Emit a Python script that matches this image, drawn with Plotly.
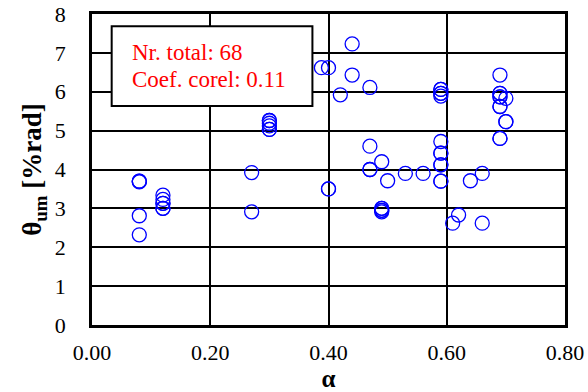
import plotly.graph_objects as go

alpha = [0.08, 0.08, 0.08, 0.08,
         0.12, 0.12, 0.12, 0.12,
         0.27, 0.27,
         0.30, 0.30, 0.30, 0.30,
         0.388, 0.40, 0.40,
         0.42, 0.44, 0.44,
         0.47, 0.47, 0.47,
         0.49, 0.49, 0.49, 0.49,
         0.50, 0.53, 0.56,
         0.59, 0.59, 0.59, 0.59, 0.59, 0.59, 0.59,
         0.61, 0.62, 0.64, 0.66, 0.66,
         0.69, 0.69, 0.69, 0.70, 0.69, 0.70, 0.69,
         # overlapping (hidden) observations
         0.08, 0.12, 0.12, 0.30, 0.30, 0.49, 0.49, 0.59, 0.59, 0.59,
         0.59, 0.59, 0.69, 0.69, 0.69, 0.70, 0.69, 0.47, 0.40]
theta = [3.70, 3.68, 2.81, 2.32,
         3.34, 3.23, 3.13, 3.00,
         3.92, 2.91,
         5.26, 5.19, 5.12, 5.03,
         6.62, 6.62, 3.50,
         5.92, 7.23, 6.43,
         6.11, 4.60, 4.00,
         4.20, 3.00, 2.95, 2.91,
         3.71, 3.90, 3.90,
         6.06, 5.96, 5.89, 4.72, 4.42, 4.12, 3.70,
         2.62, 2.83, 3.71, 3.90, 2.62,
         6.43, 5.96, 5.87, 5.83, 5.62, 5.23, 4.80,
         3.70, 3.00, 3.13, 5.03, 5.26, 2.95, 3.00, 5.96, 6.06, 4.12,
         3.70, 4.42, 5.87, 5.96, 5.62, 5.23, 4.80, 4.00, 3.50]

x_ticks = [0.0, 0.2, 0.4, 0.6, 0.8]
x_ticklabels = ["0.00", "0.20", "0.40", "0.60", "0.80"]
y_ticks = [0, 1, 2, 3, 4, 5, 6, 7, 8]

n_total = 68
coef = 0.11

FONT = "'Liberation Serif', 'Times New Roman', Times, serif"

fig = go.Figure()
fig.add_trace(go.Scatter(
    x=alpha, y=theta, mode="markers",
    marker=dict(symbol="circle-open", size=14, color="#0000FF",
                line=dict(width=1.3, color="#0000FF")),
    showlegend=False, hoverinfo="x+y", cliponaxis=False))

fig.update_layout(
    width=588, height=392,
    margin=dict(l=92, r=23, t=14, b=67, autoexpand=False),
    paper_bgcolor="white", plot_bgcolor="white",
    font=dict(family=FONT, color="black", size=22),
    xaxis=dict(range=[0, 0.8], tickvals=x_ticks, ticktext=x_ticklabels,
               showgrid=True, gridcolor="black", gridwidth=1.5,
               showline=True, linecolor="black", linewidth=2.5, mirror=True,
               zeroline=False, ticks="", tickfont=dict(size=22, family=FONT),
               ticklabelstandoff=6, automargin=False,
               title=dict(text="<b>α</b>", font=dict(size=25, family=FONT), standoff=0)),
    yaxis=dict(range=[0, 8], tickvals=y_ticks,
               showgrid=True, gridcolor="black", gridwidth=1.5,
               showline=True, linecolor="black", linewidth=2.5, mirror=True,
               zeroline=False, ticks="", tickfont=dict(size=22, family=FONT),
               ticklabelstandoff=19, automargin=False,
               title=dict(text="<b>θ<sub>um</sub> [%rad]</b>", font=dict(size=27, family=FONT), standoff=6)),
)

fig.add_shape(type="rect", xref="paper", yref="paper",
              x0=0.0416, x1=0.466, y0=0.704, y1=0.961,
              line=dict(color="black", width=2), fillcolor="white", layer="above")
fig.add_annotation(xref="paper", yref="paper", x=0.080, y=0.875,
                   xanchor="left", yanchor="middle", align="left", showarrow=False,
                   text=f"Nr. total: {n_total}",
                   font=dict(size=23, color="#FF0000", family=FONT))
fig.add_annotation(xref="paper", yref="paper", x=0.080, y=0.788,
                   xanchor="left", yanchor="middle", align="left", showarrow=False,
                   text=f"Coef. corel: {coef:.2f}",
                   font=dict(size=23, color="#FF0000", family=FONT))

fig.write_html("out.html")
